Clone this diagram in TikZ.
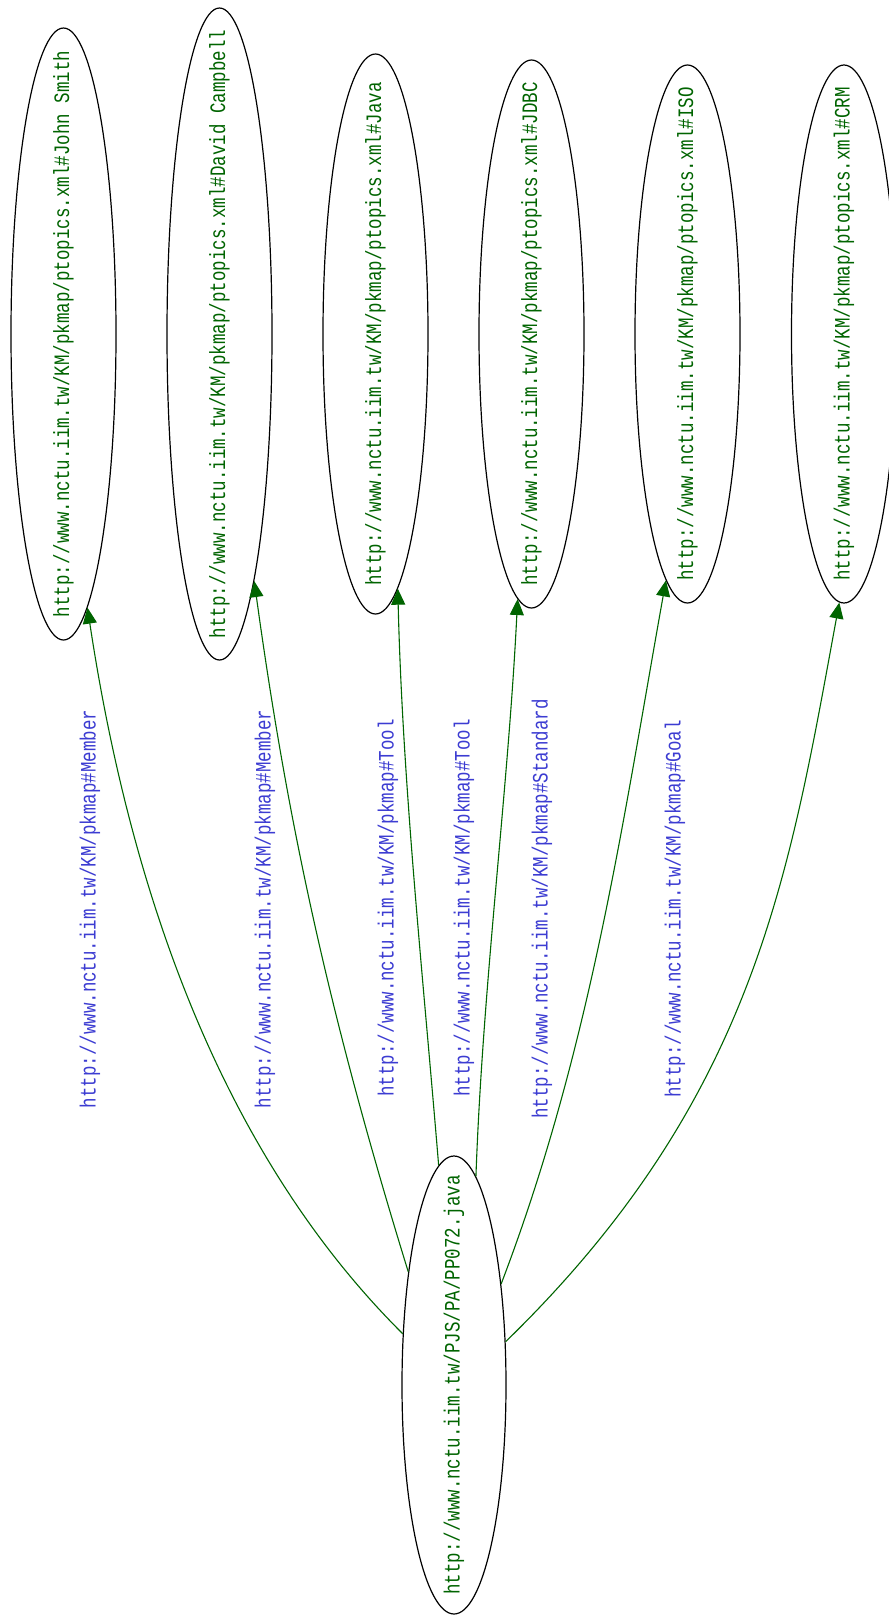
\documentclass[tikz,border=0pt]{standalone}
\usepackage{fontspec}
\usepackage{graphicx}
\setmonofont{Liberation Mono}
\usetikzlibrary{shapes.geometric,arrows.meta}

\definecolor{edgegreen}{RGB}{0,100,0}
\definecolor{labelblue}{RGB}{60,60,210}

% tall, narrow typewriter glyphs
\newcommand{\squeezetext}[1]{\scalebox{0.795}[1]{#1}}

\tikzset{
  topic/.style={ellipse, draw=black, line width=1.2pt, inner sep=0pt,
    minimum width=105pt},
  topictext/.style={rotate=90, inner sep=0pt, text=edgegreen,
    font=\ttfamily\fontsize{22}{22}\selectfont},
  reltext/.style={rotate=90, inner sep=0pt, text=labelblue,
    font=\ttfamily\fontsize{22}{22}\selectfont},
  rel/.style={draw=edgegreen, line width=1.1pt,
    -{Triangle[length=16pt,width=14pt,fill=edgegreen]}}
}

\begin{document}
\begin{tikzpicture}[x=1pt,y=-1pt]
\fill[white] (0,0) rectangle (889,1615);
\useasboundingbox (0,0) rectangle (889,1615);

% source resource
\node[topic, minimum width=104pt, minimum height=458pt] (src) at (454,1385) {};
\node[topictext] (srcl) at (src) {\squeezetext{http://www.nctu.iim.tw/PJS/PA/PP072.java}};

% topic resources
\node[topic, minimum height=612pt] (js) at (63.5,334) {};
\node[topictext] (jsl) at (js) {\squeezetext{http://www.nctu.iim.tw/KM/pkmap/ptopics.xml\#John Smith}};

\node[topic, minimum height=652pt] (dc) at (219.5,334) {};
\node[topictext] (dcl) at (dc) {\squeezetext{http://www.nctu.iim.tw/KM/pkmap/ptopics.xml\#David Campbell}};

\node[topic, minimum height=560pt] (java) at (375.5,334) {};
\node[topictext] (javal) at (java) {\squeezetext{http://www.nctu.iim.tw/KM/pkmap/ptopics.xml\#Java}};

\node[topic, minimum height=548pt] (jdbc) at (531.5,334) {};
\node[topictext] (jdbcl) at (jdbc) {\squeezetext{http://www.nctu.iim.tw/KM/pkmap/ptopics.xml\#JDBC}};

\node[topic, minimum height=538pt] (iso) at (687.5,334) {};
\node[topictext] (isol) at (iso) {\squeezetext{http://www.nctu.iim.tw/KM/pkmap/ptopics.xml\#ISO}};

\node[topic, minimum height=538pt] (crm) at (844,334) {};
\node[topictext] (crml) at (crm) {\squeezetext{http://www.nctu.iim.tw/KM/pkmap/ptopics.xml\#CRM}};

% relations
\draw[rel] (src.135.6) .. controls (226,1158) and (132,902) .. (js.-85.5);
\draw[rel] (src.112.4) .. controls (325.5,1004) and (285.8,810) .. (dc.-82);
\draw[rel] (src.94.5) .. controls (423.3,978.6) and (402.6,785.5) .. (java.-85.4);
\draw[rel] (src.84.3) .. controls (482.8,983.2) and (508.2,789.8) .. (jdbc.-93.3);
\draw[rel] (src.65.7) .. controls (590.5,1050) and (623.3,818.5) .. (iso.-95.4);
\draw[rel] (src.40) .. controls (755,1099) and (789,876) .. (crm.-91.9);

% relation labels
\node[reltext] (r1) at (90,909) {\squeezetext{http://www.nctu.iim.tw/KM/pkmap\#Member}};
\node[reltext] (r2) at (265,909) {\squeezetext{http://www.nctu.iim.tw/KM/pkmap\#Member}};
\node[reltext] (r3) at (388,908) {\squeezetext{http://www.nctu.iim.tw/KM/pkmap\#Tool}};
\node[reltext] (r4) at (464,908) {\squeezetext{http://www.nctu.iim.tw/KM/pkmap\#Tool}};
\node[reltext] (r5) at (542,909) {\squeezetext{http://www.nctu.iim.tw/KM/pkmap\#Standard}};
\node[reltext] (r6) at (675,909) {\squeezetext{http://www.nctu.iim.tw/KM/pkmap\#Goal}};
\end{tikzpicture}
\end{document}
